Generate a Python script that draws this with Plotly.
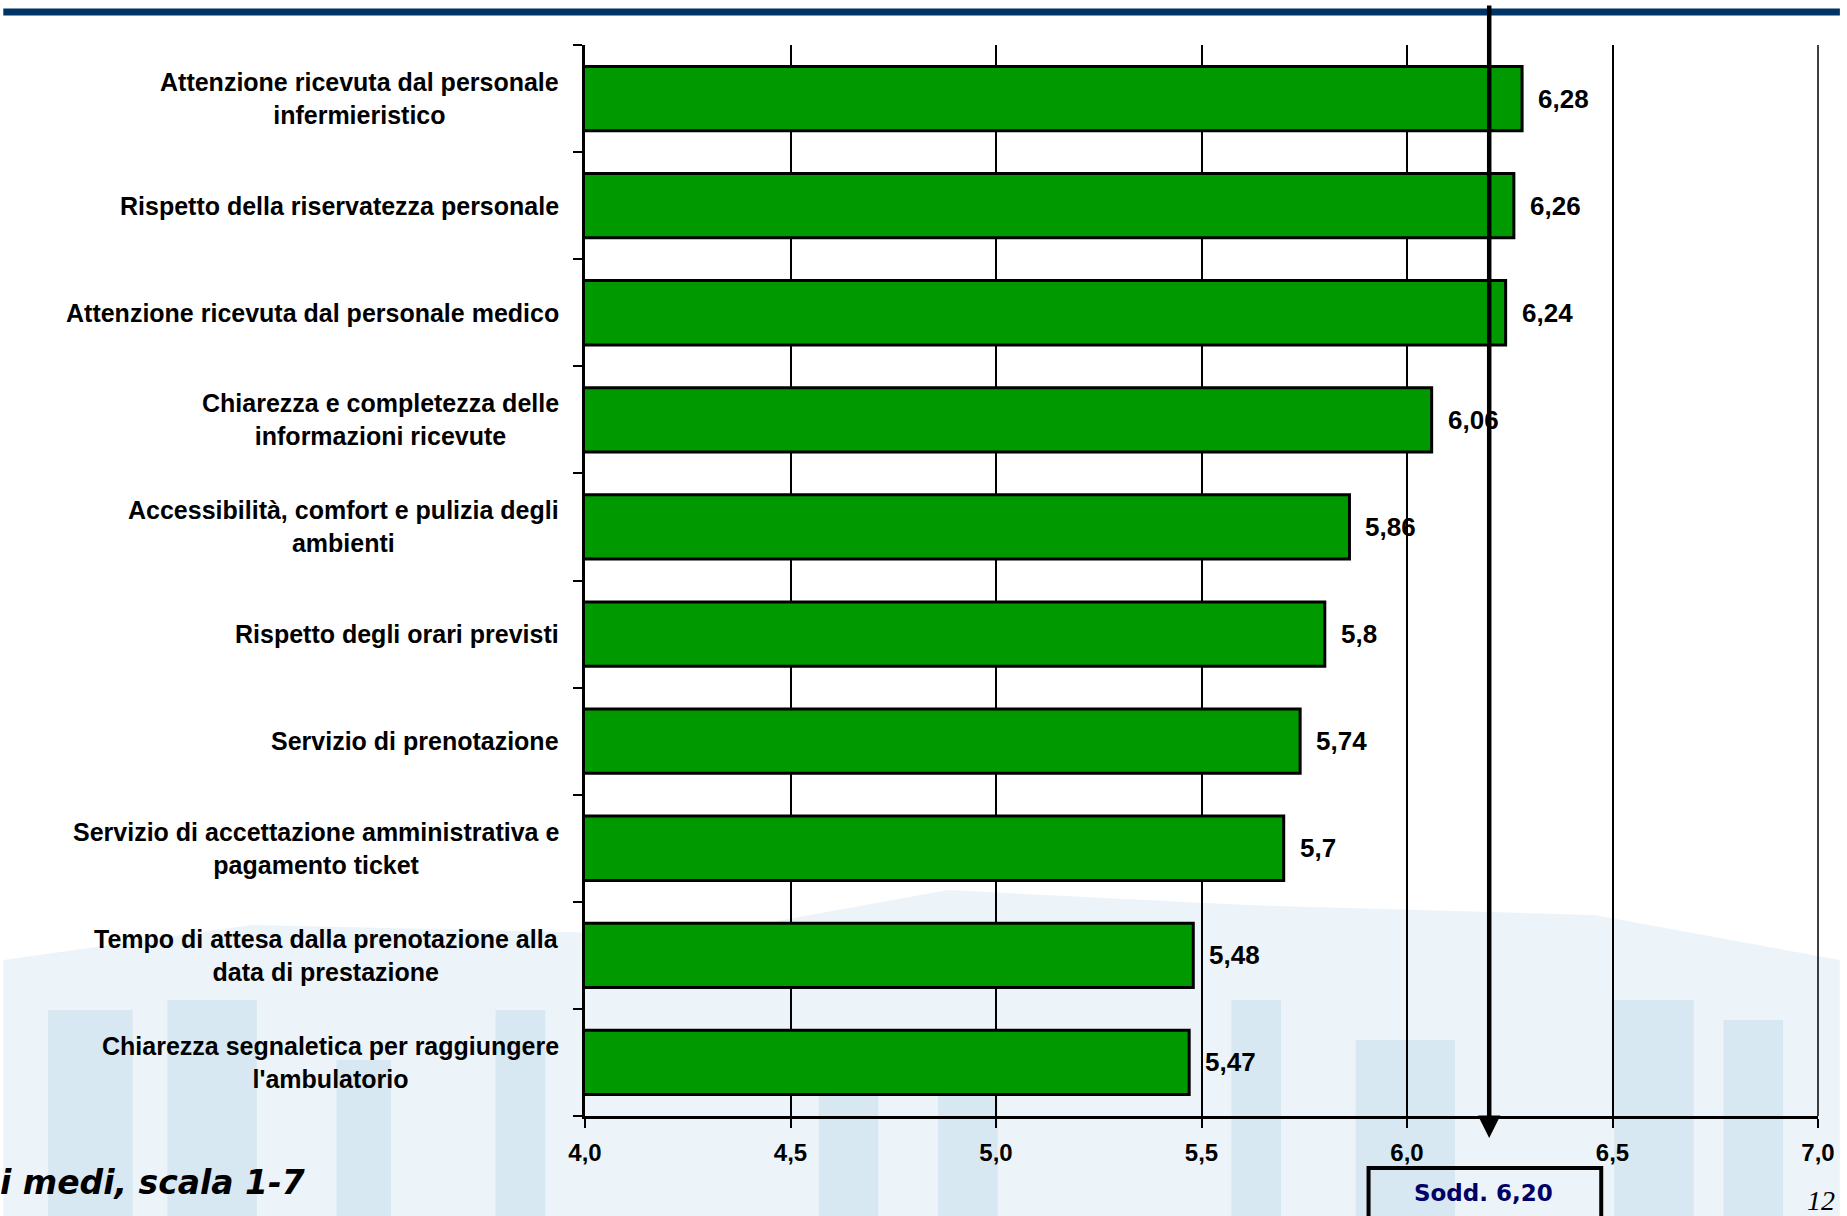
import plotly.graph_objects as go

# data, top to bottom as in the chart
categories = [
    "Attenzione ricevuta dal personale<br>infermieristico",
    "Rispetto della riservatezza personale",
    "Attenzione ricevuta dal personale medico",
    "Chiarezza e completezza delle<br>informazioni ricevute",
    "Accessibilità, comfort e pulizia degli<br>ambienti",
    "Rispetto degli orari previsti",
    "Servizio di prenotazione",
    "Servizio di accettazione amministrativa e<br>pagamento ticket",
    "Tempo di attesa dalla prenotazione alla<br>data di prestazione",
    "Chiarezza segnaletica per raggiungere<br>l'ambulatorio",
]
values = [6.28, 6.26, 6.24, 6.06, 5.86, 5.8, 5.74, 5.7, 5.48, 5.47]
sodd = 6.20
x_ticks = [4.0, 4.5, 5.0, 5.5, 6.0, 6.5, 7.0]

W, H = 1847, 1216
L, R, T, B = 585, 22, 45, 100
PW, PH = W - L - R, H - T - B

def px(x):  # page pixel -> paper x
    return (x - L) / PW

def py(y):  # page pixel -> paper y
    return (H - B - y) / PH

fig = go.Figure()
fig.add_trace(go.Bar(
    x=values, y=categories, orientation="h",
    marker=dict(color="#009900", line=dict(color="black", width=3)),
    hoverinfo="skip",
))

fig.update_layout(
    width=W, height=H,
    margin=dict(l=L, r=R, t=T, b=B),
    paper_bgcolor="white", plot_bgcolor="rgba(0,0,0,0)",
    showlegend=False, bargap=0.4, separators=",.",
    font=dict(family="Liberation Sans, Arial", color="black"),
)
fig.update_xaxes(
    range=[4, 7], tickvals=x_ticks, tickformat=".1f",
    showgrid=True, gridcolor="black", gridwidth=1.5,
    showline=True, linecolor="black", linewidth=3,
    ticks="outside", ticklen=9, tickwidth=2, tickcolor="black",
    tickfont=dict(size=24, family="Liberation Sans, Arial", weight="bold"),
    ticklabelstandoff=4,
    zeroline=False, fixedrange=True,
)
fig.update_yaxes(
    categoryorder="array", categoryarray=categories[::-1],
    showticklabels=False, showgrid=False,
    showline=True, linecolor="black", linewidth=3,
    ticks="outside", tickson="boundaries", ticklen=9, tickwidth=2, tickcolor="black",
    fixedrange=True,
)

# category labels, centred lines, right-aligned block
for c in categories:
    fig.add_annotation(
        x=px(561), xref="paper", y=c, yref="y", text="<b>%s</b>" % c,
        xanchor="right", yanchor="middle", align="center", showarrow=False,
        font=dict(size=25, family="Liberation Sans, Arial"),
    )

# value labels
for c, v in zip(categories, values):
    fig.add_annotation(
        x=v, y=c, xref="x", yref="y", text="<b>%s</b>" % str(v).replace(".", ","),
        xanchor="left", yanchor="middle", xshift=14, showarrow=False,
        font=dict(size=26, family="Liberation Sans, Arial"),
    )

# faint background picture (watermark)
shapes = []
shapes.append(dict(type="path", xref="paper", yref="paper", layer="below",
    path="M %f %f L %f %f L %f %f L %f %f L %f %f L %f %f L %f %f L %f %f L %f %f Z" % (
        px(0), py(960), px(250), py(925), px(700), py(935), px(950), py(890),
        px(1250), py(905), px(1600), py(915), px(1847), py(960),
        px(1847), py(1216), px(0), py(1216)),
    fillcolor="#edf4f9", line=dict(width=0)))
stripes = [(45, 130, 1010), (165, 255, 1000), (335, 390, 1060), (495, 545, 1010),
           (820, 880, 1030), (940, 1000, 1050), (1235, 1285, 1000), (1360, 1460, 1040),
           (1620, 1700, 1000), (1730, 1790, 1020)]
for x0, x1, y0 in stripes:
    shapes.append(dict(type="rect", xref="paper", yref="paper", layer="below",
        x0=px(x0), x1=px(x1), y0=py(y0), y1=py(1216),
        fillcolor="#d8e8f2", line=dict(width=0)))

# gridline at the right end of the axis (7,0)
shapes.append(dict(type="line", xref="paper", yref="paper", layer="below",
    x0=1, x1=1, y0=0, y1=1, line=dict(color="black", width=1.5)))

# blue rule at the top
shapes.append(dict(type="line", xref="paper", yref="paper", layer="above",
    x0=px(0), x1=px(W), y0=py(12), y1=py(12), line=dict(color="#003366", width=7)))

# Sodd. box
shapes.append(dict(type="rect", xref="paper", yref="paper", layer="above",
    x0=px(1373), x1=px(1607), y0=py(1168), y1=py(1222),
    line=dict(color="black", width=4), fillcolor="rgba(0,0,0,0)"))
fig.update_layout(shapes=shapes)

fig.add_annotation(x=px(1489), y=py(1193), xref="paper", yref="paper",
    xanchor="center", yanchor="middle",
    text="<b>Sodd. %s</b>" % ("%.2f" % sodd).replace(".", ","), showarrow=False,
    font=dict(size=23, family="DejaVu Sans", color="#000066"))

# overall mean arrow
fig.add_annotation(x=sodd, xref="x", y=py(1138), yref="paper", text="",
    showarrow=True, ax=0, ay=-(1138 - 4), axref="pixel", ayref="pixel",
    arrowhead=2, arrowsize=1, arrowwidth=4.5, arrowcolor="black", standoff=0)

# footer texts
fig.add_annotation(x=px(305), y=py(1182), xref="paper", yref="paper",
    text="<b><i>i medi, scala 1-7</i></b>", xanchor="right", yanchor="middle",
    showarrow=False, font=dict(size=33, family="DejaVu Sans"))
fig.add_annotation(x=px(1812), y=py(1200), xref="paper", yref="paper",
    text="<i>12</i>", xanchor="left", yanchor="middle", showarrow=False,
    font=dict(size=28, family="Liberation Serif"))

fig.write_html("out.html", config={"displayModeBar": False},
               post_script="document.body.style.margin='0';")
